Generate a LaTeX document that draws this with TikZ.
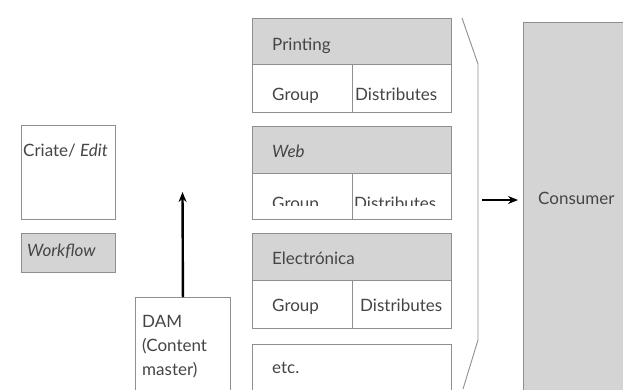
\documentclass[tikz,border=0pt]{standalone}
\usepackage{fontspec}
\setmainfont{Lato}
\usepackage{tikz}
\usetikzlibrary{arrows.meta}

\definecolor{boxline}{rgb}{0.56,0.56,0.56}
\definecolor{boxfill}{rgb}{0.83,0.83,0.83}
\definecolor{txtgray}{rgb}{0.27,0.27,0.27}

\tikzset{
  box/.style={draw=boxline, line width=0.9pt, inner sep=0pt, anchor=north west, fill=white},
  hdr/.style={box, fill=boxfill},
  lbl/.style={text=txtgray, inner sep=0pt, anchor=base west, font=\fontsize{17}{24}\selectfont},
  arr/.style={line width=2.4pt, -{Stealth[length=10pt,width=8pt]}},
  bracket/.style={draw=boxline, line width=0.9pt}
}

\begin{document}
\begin{tikzpicture}[x=1pt,y=1pt,yscale=-1]
\useasboundingbox (0,0) rectangle (623,389);

%Left column
\node[box, minimum width=94, minimum height=94] (criate) at (21,125) {};
\node[lbl] (criatetxt) at (23,156) {Criate/ \textit{Edit}};
\node[hdr, minimum width=94, minimum height=39] (workflow) at (21,233) {};
\node[lbl] (workflowtxt) at (27,256) {\textit{Workflow}};

%DAM
\node[box, minimum width=95, minimum height=100] (dam) at (135,297) {};
\node[lbl, anchor=north west, align=left] (damtxt) at (142,315) {DAM\\(Content\\master)};
\coordinate (damtip) at (182.5,192);
\draw[arr] (dam.north) -- (damtip);

%Printing
\node[hdr, minimum width=199, minimum height=46] (printing) at (252,18) {};
\node[lbl] (printingtxt) at (272,50) {Printing};
\node[box, minimum width=100, minimum height=48] (printgroup) at (252,64) {};
\node[box, minimum width=99, minimum height=48] (printdist) at (352,64) {};
\node[lbl] (printgrouptxt) at (272,100) {Group};
\node[lbl] (printdisttxt) at (355,100) {Distributes};

%Web
\node[hdr, minimum width=199, minimum height=47] (web) at (252,126) {};
\node[lbl] (webtxt) at (272,157) {\textit{Web}};
\node[box, minimum width=100, minimum height=46] (webgroup) at (252,173) {};
\node[box, minimum width=99, minimum height=46] (webdist) at (352,173) {};
\begin{scope}
\clip (252,173) rectangle (451,205);
\node[lbl] (webgrouptxt) at (272,209) {Group};
\node[lbl] (webdisttxt) at (354,209) {Distributes};
\end{scope}

%Electronica
\node[hdr, minimum width=199, minimum height=47] (elec) at (252,233) {};
\node[lbl] (electxt) at (272,264) {Electrónica};
\node[box, minimum width=100, minimum height=48] (elecgroup) at (252,280) {};
\node[box, minimum width=99, minimum height=48] (elecdist) at (352,280) {};
\node[lbl] (elecgrouptxt) at (272,311) {Group};
\node[lbl] (elecdisttxt) at (360,311) {Distributes};

%etc.
\node[box, minimum width=199, minimum height=60] (etc) at (252,344) {};
\node[lbl] (etctxt) at (272,373) {etc.};

%Bracket
\draw[bracket] (462,18) -- (478,64) -- (478,340) -- (463,389);

%Consumer
\node[hdr, minimum width=110, minimum height=380] (consumer) at (523,22) {};
\node[lbl] (consumertxt) at (538,204) {Consumer};
\coordinate (pubstart) at (482,200);
\draw[arr, shorten >=5pt] (pubstart) -- (consumer.west |- pubstart);

\end{tikzpicture}
\end{document}
